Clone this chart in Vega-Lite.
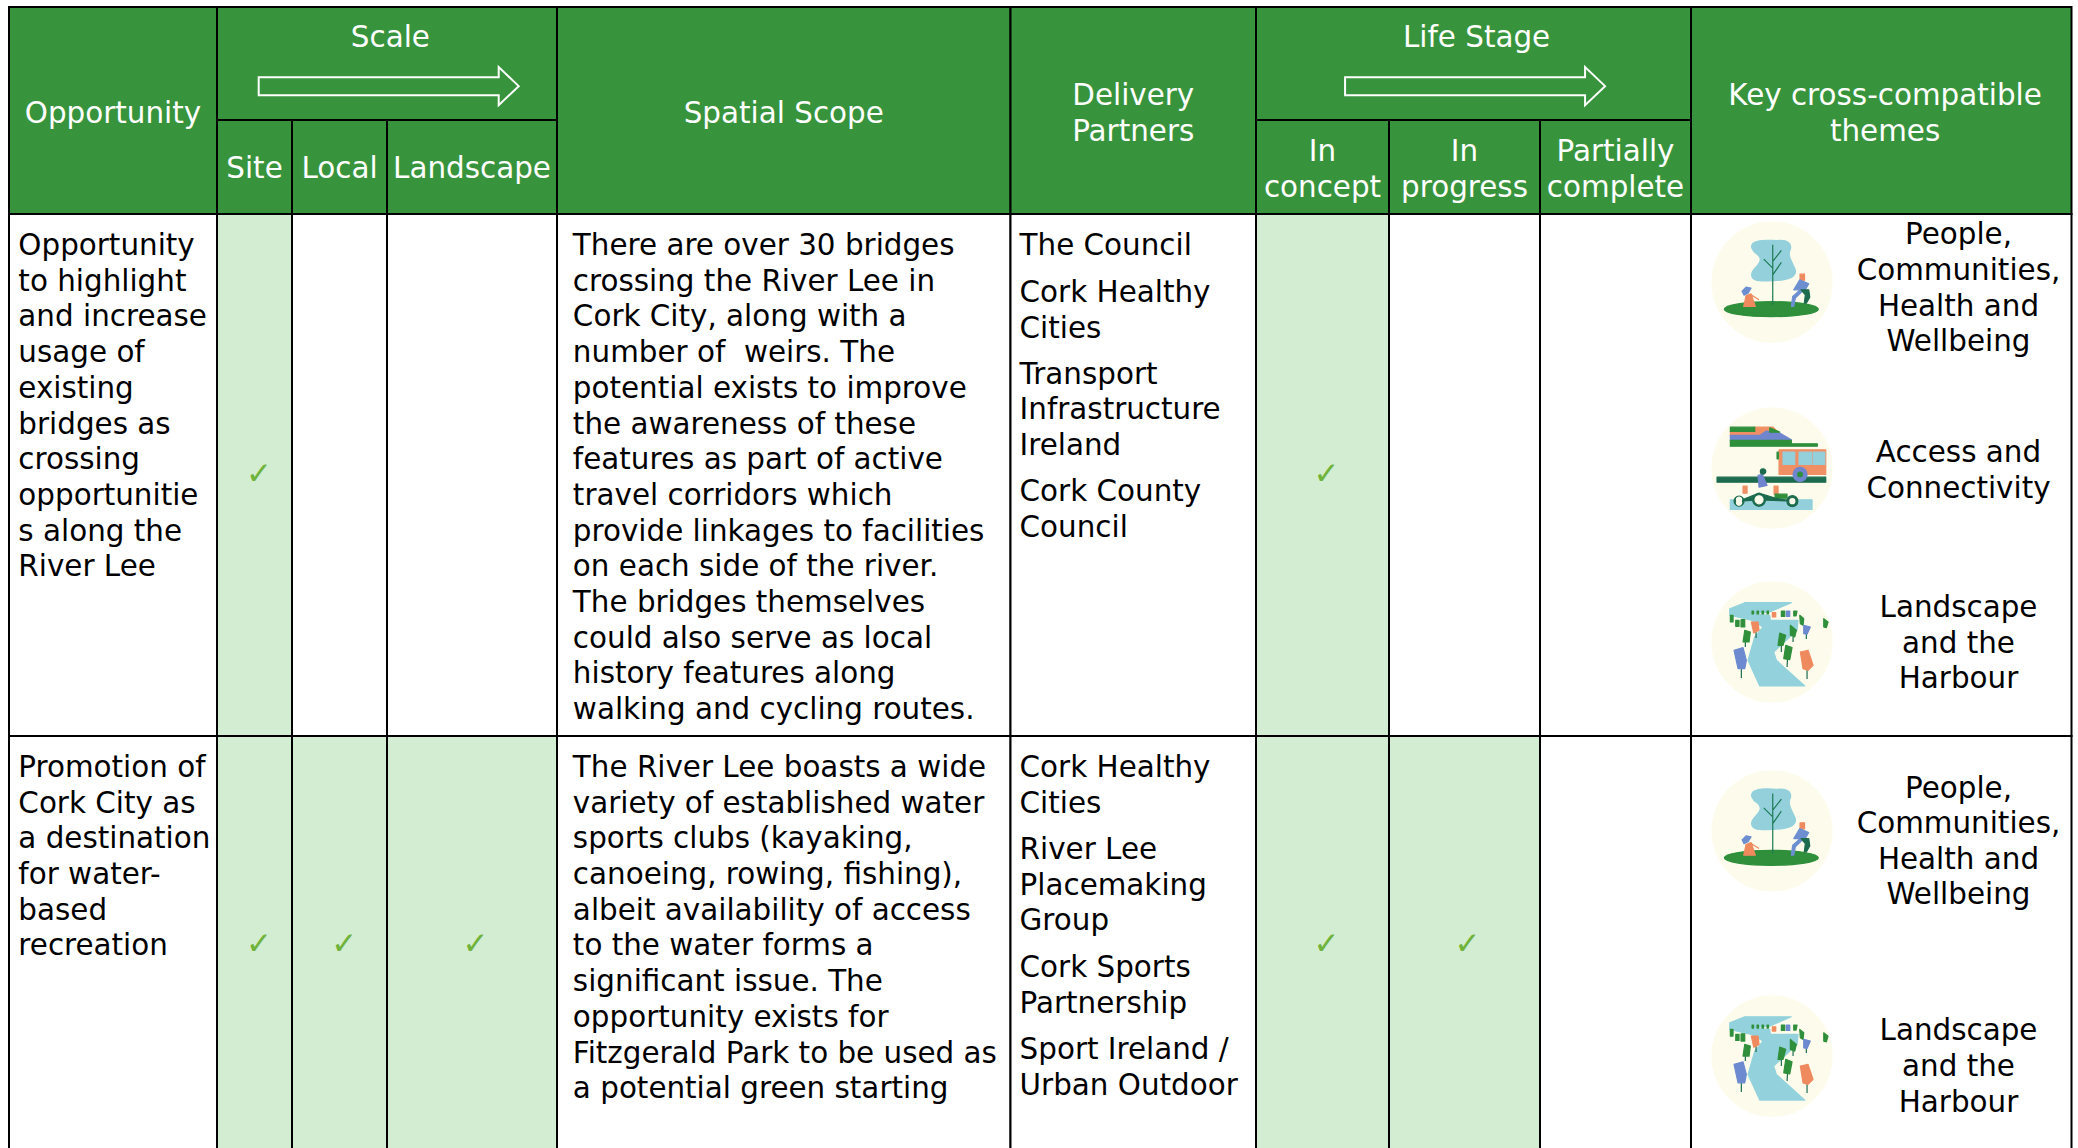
{
"$schema":"https://vega.github.io/schema/vega-lite/v6.json",
"width":2078,"height":1148,"padding":0,"autosize":"none","background":"white",
"config":{"view":{"stroke":null}},
"datasets":{
"cells":[
{"col":0,"col2":1,"line":-6.67,"line2":-0.87,"kind":"header"},
{"col":1,"col2":4,"line":-6.67,"line2":-3.5,"kind":"header"},
{"col":1,"col2":2,"line":-3.5,"line2":-0.87,"kind":"header"},
{"col":2,"col2":3,"line":-3.5,"line2":-0.87,"kind":"header"},
{"col":3,"col2":4,"line":-3.5,"line2":-0.87,"kind":"header"},
{"col":4,"col2":5,"line":-6.67,"line2":-0.87,"kind":"header"},
{"col":5,"col2":6,"line":-6.67,"line2":-0.87,"kind":"header"},
{"col":6,"col2":9,"line":-6.67,"line2":-3.5,"kind":"header"},
{"col":6,"col2":7,"line":-3.5,"line2":-0.87,"kind":"header"},
{"col":7,"col2":8,"line":-3.5,"line2":-0.87,"kind":"header"},
{"col":8,"col2":9,"line":-3.5,"line2":-0.87,"kind":"header"},
{"col":9,"col2":10,"line":-6.67,"line2":-0.87,"kind":"header"},
{"col":0,"col2":1,"line":-0.87,"line2":13.75,"kind":"blank"},
{"col":1,"col2":2,"line":-0.87,"line2":13.75,"kind":"tick"},
{"col":2,"col2":3,"line":-0.87,"line2":13.75,"kind":"blank"},
{"col":3,"col2":4,"line":-0.87,"line2":13.75,"kind":"blank"},
{"col":4,"col2":5,"line":-0.87,"line2":13.75,"kind":"blank"},
{"col":5,"col2":6,"line":-0.87,"line2":13.75,"kind":"blank"},
{"col":6,"col2":7,"line":-0.87,"line2":13.75,"kind":"tick"},
{"col":7,"col2":8,"line":-0.87,"line2":13.75,"kind":"blank"},
{"col":8,"col2":9,"line":-0.87,"line2":13.75,"kind":"blank"},
{"col":9,"col2":10,"line":-0.87,"line2":13.75,"kind":"blank"},
{"col":0,"col2":1,"line":13.75,"line2":27,"kind":"blank"},
{"col":1,"col2":2,"line":13.75,"line2":27,"kind":"tick"},
{"col":2,"col2":3,"line":13.75,"line2":27,"kind":"tick"},
{"col":3,"col2":4,"line":13.75,"line2":27,"kind":"tick"},
{"col":4,"col2":5,"line":13.75,"line2":27,"kind":"blank"},
{"col":5,"col2":6,"line":13.75,"line2":27,"kind":"blank"},
{"col":6,"col2":7,"line":13.75,"line2":27,"kind":"tick"},
{"col":7,"col2":8,"line":13.75,"line2":27,"kind":"tick"},
{"col":8,"col2":9,"line":13.75,"line2":27,"kind":"blank"},
{"col":9,"col2":10,"line":13.75,"line2":27,"kind":"blank"}
],
"headers":[
{"col":0.5,"line":-3.71,"text":"Opportunity"},
{"col":3.02,"line":-5.83,"text":"Scale"},
{"col":1.5,"line":-2.15,"text":"Site"},
{"col":2.5,"line":-2.15,"text":"Local"},
{"col":3.5,"line":-2.15,"text":"Landscape"},
{"col":4.5,"line":-3.71,"text":"Spatial Scope"},
{"col":5.5,"line":-4.2,"text":"Delivery"},
{"col":5.5,"line":-3.2,"text":"Partners"},
{"col":7.58,"line":-5.83,"text":"Life Stage"},
{"col":6.5,"line":-2.63,"text":"In"},
{"col":6.5,"line":-1.63,"text":"concept"},
{"col":7.5,"line":-2.63,"text":"In"},
{"col":7.5,"line":-1.63,"text":"progress"},
{"col":8.5,"line":-2.63,"text":"Partially"},
{"col":8.5,"line":-1.63,"text":"complete"},
{"col":9.51,"line":-4.2,"text":"Key cross-compatible"},
{"col":9.51,"line":-3.2,"text":"themes"}
],
"themes":[
{"col":9.703,"line":-0.3,"text":"People,"},
{"col":9.703,"line":0.7,"text":"Communities,"},
{"col":9.703,"line":1.7,"text":"Health and"},
{"col":9.703,"line":2.7,"text":"Wellbeing"},
{"col":9.703,"line":5.8,"text":"Access and"},
{"col":9.703,"line":6.8,"text":"Connectivity"},
{"col":9.703,"line":10.15,"text":"Landscape"},
{"col":9.703,"line":11.15,"text":"and the"},
{"col":9.703,"line":12.13,"text":"Harbour"},
{"col":9.703,"line":15.2,"text":"People,"},
{"col":9.703,"line":16.2,"text":"Communities,"},
{"col":9.703,"line":17.2,"text":"Health and"},
{"col":9.703,"line":18.18,"text":"Wellbeing"},
{"col":9.703,"line":22.0,"text":"Landscape"},
{"col":9.703,"line":23.0,"text":"and the"},
{"col":9.703,"line":24.0,"text":"Harbour"}
],
"body":[
{"col":0.045,"line":0,"text":"Opportunity"},
{"col":0.045,"line":1,"text":"to highlight"},
{"col":0.045,"line":2,"text":"and increase"},
{"col":0.045,"line":3,"text":"usage of"},
{"col":0.045,"line":4,"text":"existing"},
{"col":0.045,"line":5,"text":"bridges as"},
{"col":0.045,"line":6,"text":"crossing"},
{"col":0.045,"line":7,"text":"opportunitie"},
{"col":0.045,"line":8,"text":"s along the"},
{"col":0.045,"line":9,"text":"River Lee"},
{"col":4.035,"line":0,"text":"There are over 30 bridges"},
{"col":4.035,"line":1,"text":"crossing the River Lee in"},
{"col":4.035,"line":2,"text":"Cork City, along with a"},
{"col":4.035,"line":3,"text":"number of \u00a0weirs. The"},
{"col":4.035,"line":4,"text":"potential exists to improve"},
{"col":4.035,"line":5,"text":"the awareness of these"},
{"col":4.035,"line":6,"text":"features as part of active"},
{"col":4.035,"line":7,"text":"travel corridors which"},
{"col":4.035,"line":8,"text":"provide linkages to facilities"},
{"col":4.035,"line":9,"text":"on each side of the river."},
{"col":4.035,"line":10,"text":"The bridges themselves"},
{"col":4.035,"line":11,"text":"could also serve as local"},
{"col":4.035,"line":12,"text":"history features along"},
{"col":4.035,"line":13,"text":"walking and cycling routes."},
{"col":5.037,"line":0,"text":"The Council"},
{"col":5.037,"line":1.32,"text":"Cork Healthy"},
{"col":5.037,"line":2.32,"text":"Cities"},
{"col":5.037,"line":3.6,"text":"Transport"},
{"col":5.037,"line":4.6,"text":"Infrastructure"},
{"col":5.037,"line":5.6,"text":"Ireland"},
{"col":5.037,"line":6.9,"text":"Cork County"},
{"col":5.037,"line":7.9,"text":"Council"},
{"col":0.045,"line":14.62,"text":"Promotion of"},
{"col":0.045,"line":15.62,"text":"Cork City as"},
{"col":0.045,"line":16.62,"text":"a destination"},
{"col":0.045,"line":17.62,"text":"for water-"},
{"col":0.045,"line":18.62,"text":"based"},
{"col":0.045,"line":19.62,"text":"recreation"},
{"col":4.035,"line":14.62,"text":"The River Lee boasts a wide"},
{"col":4.035,"line":15.62,"text":"variety of established water"},
{"col":4.035,"line":16.62,"text":"sports clubs (kayaking,"},
{"col":4.035,"line":17.62,"text":"canoeing, rowing, fishing),"},
{"col":4.035,"line":18.62,"text":"albeit availability of access"},
{"col":4.035,"line":19.62,"text":"to the water forms a"},
{"col":4.035,"line":20.62,"text":"significant issue. The"},
{"col":4.035,"line":21.62,"text":"opportunity exists for"},
{"col":4.035,"line":22.62,"text":"Fitzgerald Park to be used as"},
{"col":4.035,"line":23.62,"text":"a potential green starting"},
{"col":5.037,"line":14.62,"text":"Cork Healthy"},
{"col":5.037,"line":15.62,"text":"Cities"},
{"col":5.037,"line":16.92,"text":"River Lee"},
{"col":5.037,"line":17.92,"text":"Placemaking"},
{"col":5.037,"line":18.92,"text":"Group"},
{"col":5.037,"line":20.23,"text":"Cork Sports"},
{"col":5.037,"line":21.23,"text":"Partnership"},
{"col":5.037,"line":22.53,"text":"Sport Ireland /"},
{"col":5.037,"line":23.53,"text":"Urban Outdoor"}
],
"checks":[
{"col":1.56,"line":6.45,"text":"✓"},
{"col":6.53,"line":6.45,"text":"✓"},
{"col":1.56,"line":19.6,"text":"✓"},
{"col":2.55,"line":19.6,"text":"✓"},
{"col":3.52,"line":19.6,"text":"✓"},
{"col":6.53,"line":19.6,"text":"✓"},
{"col":7.52,"line":19.6,"text":"✓"}
],
"arrows":[
{"col":3.01,"line":-4.45},
{"col":7.57,"line":-4.45}
],
"icons":[
{"col":9.213,"line":1.04,"part":["bg","pCanopy","pGround","pTrunk","pOrange","pBlue","pDark"]},
{"col":9.213,"line":6.25,"part":["bg","aLight","aRoad","aOrange","aWin","aBlue","aGreen","aDark","aInner"]},
{"col":9.213,"line":11.12,"part":["bg","lRiver","lTrunk","lGreen","lBlue","lOrange"]},
{"col":9.213,"line":16.41,"part":["bg","pCanopy","pGround","pTrunk","pOrange","pBlue","pDark"]},
{"col":9.213,"line":22.72,"part":["bg","lRiver","lTrunk","lGreen","lBlue","lOrange"]}
]
},
"encoding":{
"x":{"field":"col","type":"quantitative","axis":null,"scale":{"domain":[0,1,2,3,4,5,6,7,8,9,10],"range":[9,217,292,387,557,1010.5,1256,1389,1540,1691,2071.5],"zero":false,"nice":false}},
"y":{"field":"line","type":"quantitative","axis":null,"scale":{"domain":[0,25],"range":[245,1137.5],"zero":false,"nice":false}}
},
"layer":[
{"data":{"name":"cells"},"mark":{"type":"rect","stroke":"#000000","strokeWidth":2,"clip":true},
 "encoding":{"x2":{"field":"col2"},"y2":{"field":"line2"},
 "fill":{"field":"kind","type":"nominal","legend":null,"scale":{"domain":["header","tick","blank"],"range":["#38943c","#d2edd2","#ffffff"]}}}},
{"data":{"name":"arrows"},"mark":{"type":"point","filled":false,"stroke":"#ffffff","strokeWidth":2,"opacity":1,"size":4,"shape":"M-130,-9L110,-9L110,-19L130,0L110,19L110,9L-130,9Z"}},
{"data":{"name":"headers"},"mark":{"type":"text","font":"DejaVu Sans","fontSize":29.4,"dy":1,"color":"#ffffff","align":"center","baseline":"middle"},"encoding":{"text":{"field":"text"}}},
{"data":{"name":"themes"},"mark":{"type":"text","font":"DejaVu Sans","fontSize":29.4,"dy":1,"color":"#000000","align":"center","baseline":"middle"},"encoding":{"text":{"field":"text"}}},
{"data":{"name":"body"},"mark":{"type":"text","font":"DejaVu Sans","fontSize":29.4,"dy":1,"color":"#000000","align":"left","baseline":"middle"},"encoding":{"text":{"field":"text"}}},
{"data":{"name":"checks"},"mark":{"type":"text","font":"DejaVu Sans","fontSize":31,"color":"#6fb33b","align":"center","baseline":"middle"},"encoding":{"text":{"field":"text"}}},
{"data":{"name":"icons"},"transform":[{"flatten":["part"]}],
 "mark":{"type":"point","filled":true,"size":4,"opacity":1,"strokeWidth":1.2,"strokeJoin":"round"},
 "encoding":{
 "shape":{"field":"part","type":"nominal","legend":null,"scale":{
  "domain":["bg","pCanopy","pGround","pTrunk","pOrange","pBlue","pDark","aLight","aRoad","aOrange","aWin","aBlue","aGreen","aDark","aInner","lRiver","lTrunk","lGreen","lBlue","lOrange"],
  "range":[
  "M-60,0A60,60 0 1,1 60,0A60,60 0 1,1 -60,0Z",
  "M-19,-39C-12,-44 0,-41 8,-41.7C15,-42 20,-39 18.3,-33C15,-27 20,-20 23,-13C25,-7 20,-4 12,-2.5C2,-1 -8,-1 -15,-1.7C-21,-3 -22,-8 -18,-13C-12,-19 -9,-24 -15,-28C-20,-31 -22,-36 -19,-39Z",
  "M-47.7,27A47,7.5 0 1,1 46.3,27A47,7.5 0 1,1 -47.7,27Z",
  "M0.7,-37.3L0.7,22.7M0.7,-20.7L9.3,-31.7M0.7,-14L-8.3,-23M0.7,-7.3L9.3,-19.7",
  "M-28.3,24.3L-26,13.7L-21,11.7L-16.7,24.3ZM-21,12.7L-13,17.7M28,-8L32.5,-8L32.5,-2L28,-2Z",
  "M-30,9L-26,5L-21,6L-24,11L-28,13ZM21.7,7.7L27.7,-2.3L36.7,1.7L33.3,7.7ZM28.3,7.7L31.7,7.7L23.3,16L21.7,24.3L19.3,24.3L20.7,14.3Z",
  "M29,7.7L36.7,7.7L37.7,15L34.3,21L32.3,21L33.3,12.7Z",
  "M-41.7,31.7L40,31.7L40,41.3L-41.7,41.3Z",
  "M-55,9L53.7,9L53.7,14L-55,14Z",
  "M-17.3,-41L1,-41L8,-34L-15,-32.5L-41.7,-32.5L-41.7,-36.7L-17.3,-36.7ZM7,-18.3L53.7,-18.3L53.7,6.3L7,6.3ZM-29,18L-25,18L-25,25L-29,25ZM2,18L6,18L6,26L2,26Z",
  "M11,-16L22.7,-16L22.7,-3.7L11,-3.7ZM27,-16L39.3,-16L39.3,-3.7L27,-3.7ZM41,-16L52.7,-16L52.7,-3.7L41,-3.7Z",
  "M-41.7,-32.7L-12.3,-32.7L-5.7,-37L7.7,-35L19.3,-28.3L14.3,-27L-41.7,-27.7ZM21,6.3A7,7 0 1,1 35,6.3A7,7 0 1,1 21,6.3ZM-14,7.3L-9.7,6.3L-5,17.3L-13,19Z",
  "M-41.7,-41L-17.3,-41L-17.3,-36.7L-41.7,-36.7ZM-41.7,-27.7L19.3,-27.7L19.3,-24.3L-41.7,-24.3ZM-41.7,-24.3L45.3,-24.3L45.3,-22L-41.7,-22ZM-2.3,-40.3L7.7,-36L-2.3,-36ZM5,-16L6.3,-16L6.3,-9.3L5,-9.3ZM25.7,6.3A2.3,2.3 0 1,1 30.3,6.3A2.3,2.3 0 1,1 25.7,6.3ZM3,26L15,26L15,30L3,30Z",
  "M-38,33A5,5 0 1,1 -28,33A5,5 0 1,1 -38,33ZM-19.5,31.7A6.5,6.5 0 1,1 -6.5,31.7A6.5,6.5 0 1,1 -19.5,31.7ZM14.8,33A5.5,5.5 0 1,1 25.8,33A5.5,5.5 0 1,1 14.8,33ZM-11.7,3.3A2.7,2.7 0 1,1 -6.3,3.3A2.7,2.7 0 1,1 -11.7,3.3ZM-33,33L-13,25L3,30L20.3,33L-13,31.7Z",
  "M-35,33A2.5,2.5 0 1,1 -31,33A2.5,2.5 0 1,1 -35,33ZM-17,31.7A4,4 0 1,1 -9,31.7A4,4 0 1,1 -17,31.7ZM17.8,33A2.5,2.5 0 1,1 22.8,33A2.5,2.5 0 1,1 17.8,33Z",
  "M-42.3,-33.3L-27.3,-39.3L19.3,-39.3L-2.3,-30L-22.3,-28.3L-2.3,-26.7L-1.7,-21.7L26,-21.7L25,-11.7L1.7,10L4.3,18.3L32.7,44L-12.3,44L-24,18.3L-17.3,-5L-9,-15L-20.7,-21.7L-42.3,-26.7Z",
  "M-30.7,26L-30.7,36M35,28L35,37M15.5,17L15,25M9.3,3.3L9.3,10M21,-5L21,0M-26.7,0L-26.7,5M-16,-10L-16,-4M34.3,-8L34.3,-3",
  "M-27.3,-11.7L-21.7,-10L-23,0L-29,0ZM7.7,-9L13.7,-6.7L11,3.3L6,3.3ZM18.3,-16.7L24.3,-11.7L22.7,-5L18.3,-6.7ZM13.7,3.3L20,5.7L17.7,17.7L11.7,16.7ZM51.7,-23.3L56,-20L54.3,-14.3L51.7,-15ZM27.7,-26.7L31.7,-23.3L31,-16.7L28.3,-18.3ZM9.3,-31L12.7,-31L12.7,-25.7L9.3,-25.7ZM21.7,-31L25,-31L24,-26L21.7,-26ZM-41.7,-26.7L-39,-26.7L-39,-20L-41.7,-20ZM-36.3,-21.7L-33,-21.7L-33,-15.7L-36.3,-15.7ZM-31,-22.3L-27.3,-22.3L-27.3,-15L-31,-15ZM-20,-31L-18.5,-31L-18.5,-28L-20,-28ZM-15,-31L-13.5,-31L-13.5,-28L-15,-28ZM-10,-31L-8.5,-31L-8.5,-28L-10,-28ZM-5,-31L-3.5,-31L-3.5,-28L-5,-28Z",
  "M-38,8.3L-29,5.7L-25.7,18.3L-27.3,26.7L-34,26.7ZM31.7,-16.7L38.3,-15L35,-7.7L31.7,-8.3ZM14.3,-31L17.7,-31L17.7,-25.7L14.3,-25.7Z",
  "M28.3,10L36,8.3L41,23.3L36,28.3L31,26.7ZM-20.7,-20L-14,-20L-13,-11.7L-18.3,-9ZM0.3,-29.3L3.7,-29.3L3.7,-25L0.3,-25Z"
  ]}},
 "fill":{"field":"part","type":"nominal","legend":null,"scale":{
  "domain":["bg","pCanopy","pGround","pTrunk","pOrange","pBlue","pDark","aLight","aRoad","aOrange","aWin","aBlue","aGreen","aDark","aInner","lRiver","lTrunk","lGreen","lBlue","lOrange"],
  "range":["#fdfcec","#93d0dc","#2f8f3b","#1d7a55","#ee8a5e","#6d8fd0","#1d6b4e","#93d0dc","#1d6b4e","#ef8f63","#93d0dc","#6f86cf","#2f8f3b","#1d6b4e","#fdfcec","#93d2dc","#1d6b4e","#2f8f3b","#6d8ad0","#ef8a5e"]}},
 "stroke":{"field":"part","type":"nominal","legend":null,"scale":{
  "domain":["bg","pCanopy","pGround","pTrunk","pOrange","pBlue","pDark","aLight","aRoad","aOrange","aWin","aBlue","aGreen","aDark","aInner","lRiver","lTrunk","lGreen","lBlue","lOrange"],
  "range":["#fdfcec","#93d0dc","#2f8f3b","#1d7a55","#ee8a5e","#6d8fd0","#1d6b4e","#93d0dc","#1d6b4e","#ef8f63","#93d0dc","#6f86cf","#2f8f3b","#1d6b4e","#fdfcec","#93d2dc","#1d6b4e","#2f8f3b","#6d8ad0","#ef8a5e"]}}
 }}
],
"resolve":{"scale":{"fill":"independent","stroke":"independent"}}
}
